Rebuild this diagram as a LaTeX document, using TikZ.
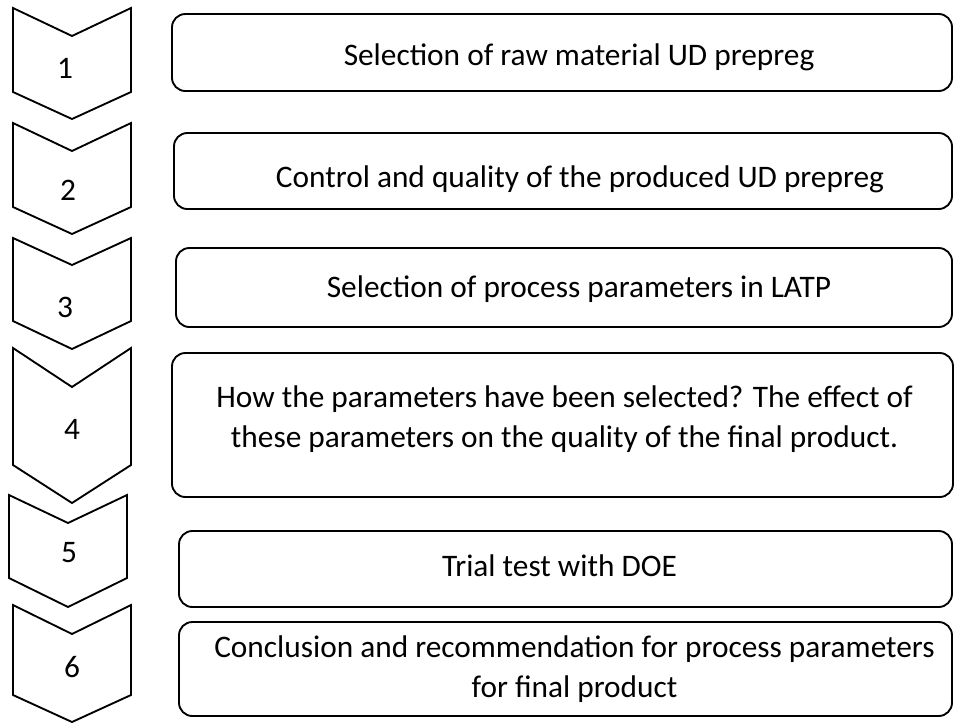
\documentclass[tikz,border=0pt]{standalone}
\usepackage{fontspec}
\setmainfont{Carlito}
\usepackage{tikz}
\usetikzlibrary{positioning}
\tikzset{chevron/.style={draw=black, line width=1.4pt, line join=miter}}
\tikzset{numnode/.style={font=\fontsize{23.5}{30}\selectfont, inner sep=0pt}}
\tikzset{boxnode/.style={shape=rectangle, rounded corners=10pt, draw=black, line width=1.4pt, inner sep=0pt}}
\tikzset{textnode/.style={align=center, inner sep=0pt, font=\fontsize{23.5}{30}\selectfont}}

\begin{document}
\begin{tikzpicture}[x=0.75pt,y=-0.75pt]
\useasboundingbox (0,0) rectangle (955,722);
%Chevrons
\draw[chevron] (13,8) -- (72,36) -- (131,8) -- (131,92) -- (72,119) -- (13,92) -- cycle;
\draw[chevron] (13,123) -- (72,151) -- (131,123) -- (131,207) -- (72,234) -- (13,207) -- cycle;
\draw[chevron] (13,238) -- (72,265) -- (131,238) -- (131,321) -- (72,349) -- (13,321) -- cycle;
\draw[chevron] (13,348) -- (72,387) -- (131,348) -- (131,465) -- (72,503) -- (13,465) -- cycle;
\draw[chevron] (9,495) -- (68,523) -- (127,495) -- (127,578) -- (68,607) -- (9,578) -- cycle;
\draw[chevron] (13,605) -- (72,634) -- (131,605) -- (131,695) -- (72,722) -- (13,695) -- cycle;
%Numbers
\node[numnode] (n1) at (65,68)  {1};
\node[numnode] (n2) at (68,190) {2};
\node[numnode] (n3) at (65,307) {3};
\node[numnode] (n4) at (72,429) {4};
\node[numnode] (n5) at (69,553) {5};
\node[numnode] (n6) at (72,667) {6};
%Boxes
\node[boxnode, minimum width=585pt, minimum height=57.75pt] (raw) at (562,52.5) {};
\node[boxnode, minimum width=583.5pt, minimum height=57pt] (quality) at (563,171) {};
\node[boxnode, minimum width=582pt, minimum height=59.25pt] (latp) at (564,287.5) {};
\node[boxnode, minimum width=585.75pt, minimum height=108pt] (effect) at (562.5,425) {};
\node[boxnode, minimum width=579.75pt, minimum height=57pt] (doe) at (565.5,569) {};
\node[boxnode, minimum width=579.75pt, minimum height=70.5pt] (concl) at (565.5,669) {};
%Texts
\node[textnode] (rawtext) at ([shift={(17,4.5)}]raw.center) {Selection of raw material UD prepreg};
\node[textnode] (qualitytext) at ([shift={(17,8.5)}]quality.center) {Control and quality of the produced UD prepreg};
\node[textnode] (latptext) at ([shift={(15,2)}]latp.center) {Selection of process parameters in LATP};
\node[textnode] (effecttext) at ([shift={(2,-6)}]effect.center) {How the parameters have been selected? The effect of\\these parameters on the quality of the final product.};
\node[textnode] (doetext) at ([shift={(-6,-3)}]doe.center) {Trial test with DOE};
\node[textnode] (concltext) at ([shift={(9,0)}]concl.center) {Conclusion and recommendation for process parameters\\for final product};
\end{tikzpicture}
\end{document}
